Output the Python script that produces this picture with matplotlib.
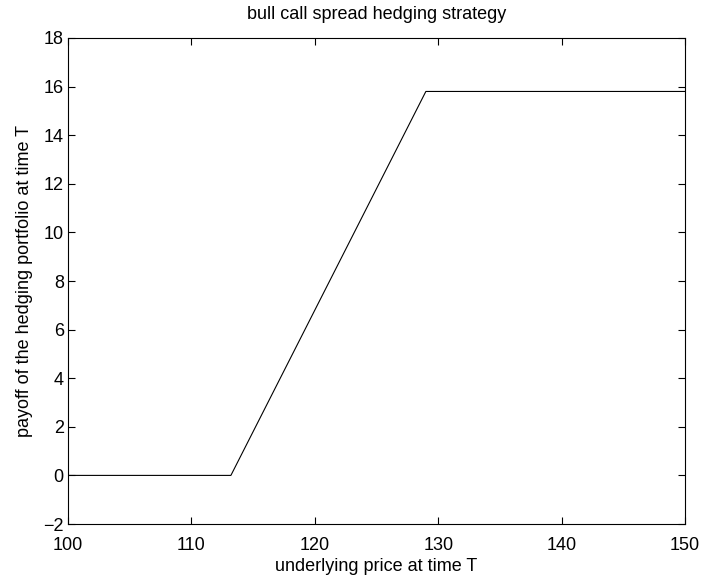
import numpy as np
import matplotlib.pyplot as plt

plt.rcParams['font.family'] = ['Liberation Sans', 'DejaVu Sans']

# breakpoints of the payoff curve
price = [100, 113.2, 129.0, 150]
payoff = [0, 0, 15.8, 15.8]

fig = plt.figure(figsize=(7.04, 5.81), dpi=100)
ax = fig.add_axes([0.0966, 0.0981, 0.8764, 0.8365])
ax.plot(price, payoff, color='black', linewidth=0.8)

ax.set_xlim(100, 150)
ax.set_ylim(-2, 18)
ax.set_xticks(np.arange(100, 151, 10))
ax.set_yticks(np.arange(-2, 19, 2))
ax.tick_params(direction='in', top=True, right=True, labelsize=13, length=5)
ax.tick_params(axis='x', pad=9)
ax.tick_params(axis='y', pad=3)
for s in ax.spines.values():
    s.set_linewidth(0.8)

ax.set_title('bull call spread hedging strategy', fontsize=13, pad=13.5)
ax.set_xlabel('underlying price at time T', fontsize=13, labelpad=3)
ax.set_ylabel('payoff of the hedging portfolio at time T', fontsize=13, labelpad=7.5)

fig.savefig('out.png', dpi=100)
